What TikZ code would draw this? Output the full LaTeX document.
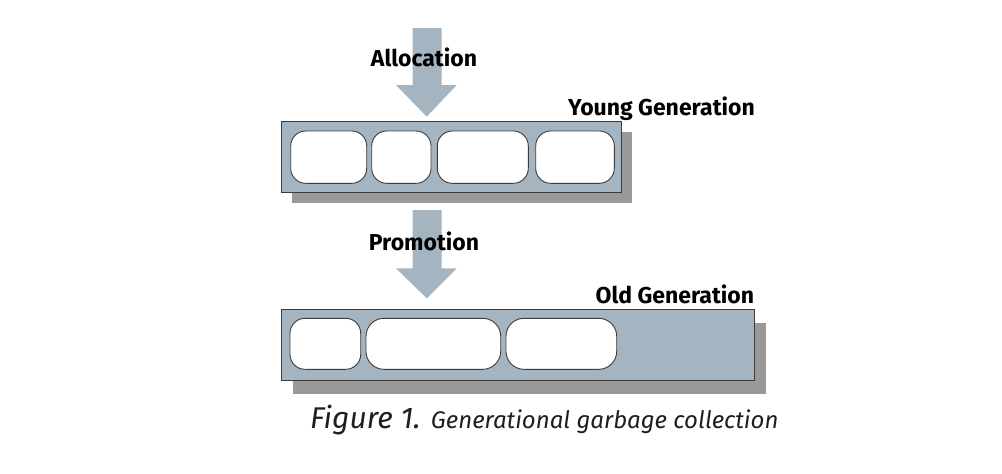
\documentclass[tikz,border=0pt]{standalone}
\usepackage{fontspec}
\setmainfont{Fira Sans}
\definecolor{boxfill}{RGB}{164,181,193}
\definecolor{shadowgray}{RGB}{153,153,153}
\definecolor{edgegray}{RGB}{60,60,60}
\definecolor{captioncol}{RGB}{30,30,30}
\tikzset{
  genbox/.style={draw=edgegray, line width=1pt, fill=boxfill},
  shadowbox/.style={fill=shadowgray},
  cell/.style={draw=edgegray, line width=0.9pt, fill=white, rounded corners=15pt},
  bigarrow/.style={fill=boxfill},
  lbl/.style={font=\fontsize{23}{26}\selectfont\bfseries, text=black, inner sep=0pt, anchor=base},
}
\begin{document}
\begin{tikzpicture}[x=1pt,y=-1pt]
\useasboundingbox (0,0) rectangle (1002,474);
% Allocation arrow
\fill[bigarrow] (412.7,28) -- (441.7,28) -- (441.7,85) -- (456.7,85) -- (426.7,116.7) -- (396,85) -- (412.7,85) -- cycle;
\node[lbl] (alloc) at (424,66.7) {Allocation};
% Young generation
\fill[shadowbox] (291.7,131.7) rectangle (631.7,203.3);
\draw[genbox] (281.7,121) rectangle (621,192.7);
\node[lbl, anchor=base east] (young) at (755,115) {Young Generation};
\draw[cell] (290.7,131) rectangle (366.7,183.3);
\draw[cell] (371.7,131) rectangle (431,183.3);
\draw[cell] (437.3,131) rectangle (528.3,183.3);
\draw[cell] (535.7,131) rectangle (614.3,183.3);
% Promotion arrow
\fill[bigarrow] (412.7,210) -- (441.7,210) -- (441.7,268.3) -- (456.7,268.3) -- (426.7,298.3) -- (396,268.3) -- (412.7,268.3) -- cycle;
\node[lbl] (promo) at (424,250) {Promotion};
% Old generation
\fill[shadowbox] (293,323) rectangle (765.7,394);
\draw[genbox] (281.7,309) rectangle (754.3,380);
\node[lbl, anchor=base east] (old) at (754.3,303.3) {Old Generation};
\draw[cell] (290,318.3) rectangle (360.7,369.3);
\draw[cell, rounded corners=18pt] (366,318.3) rectangle (500.7,369.3);
\draw[cell, rounded corners=18pt] (506,318.3) rectangle (616.7,369.3);
% Caption
\node[inner sep=0pt, anchor=base west, text=captioncol] (cap) at (310,428.3)
  {\fontsize{30}{33}\selectfont\itshape Figure 1. \fontsize{24}{27}\selectfont Generational garbage collection};
\end{tikzpicture}
\end{document}
